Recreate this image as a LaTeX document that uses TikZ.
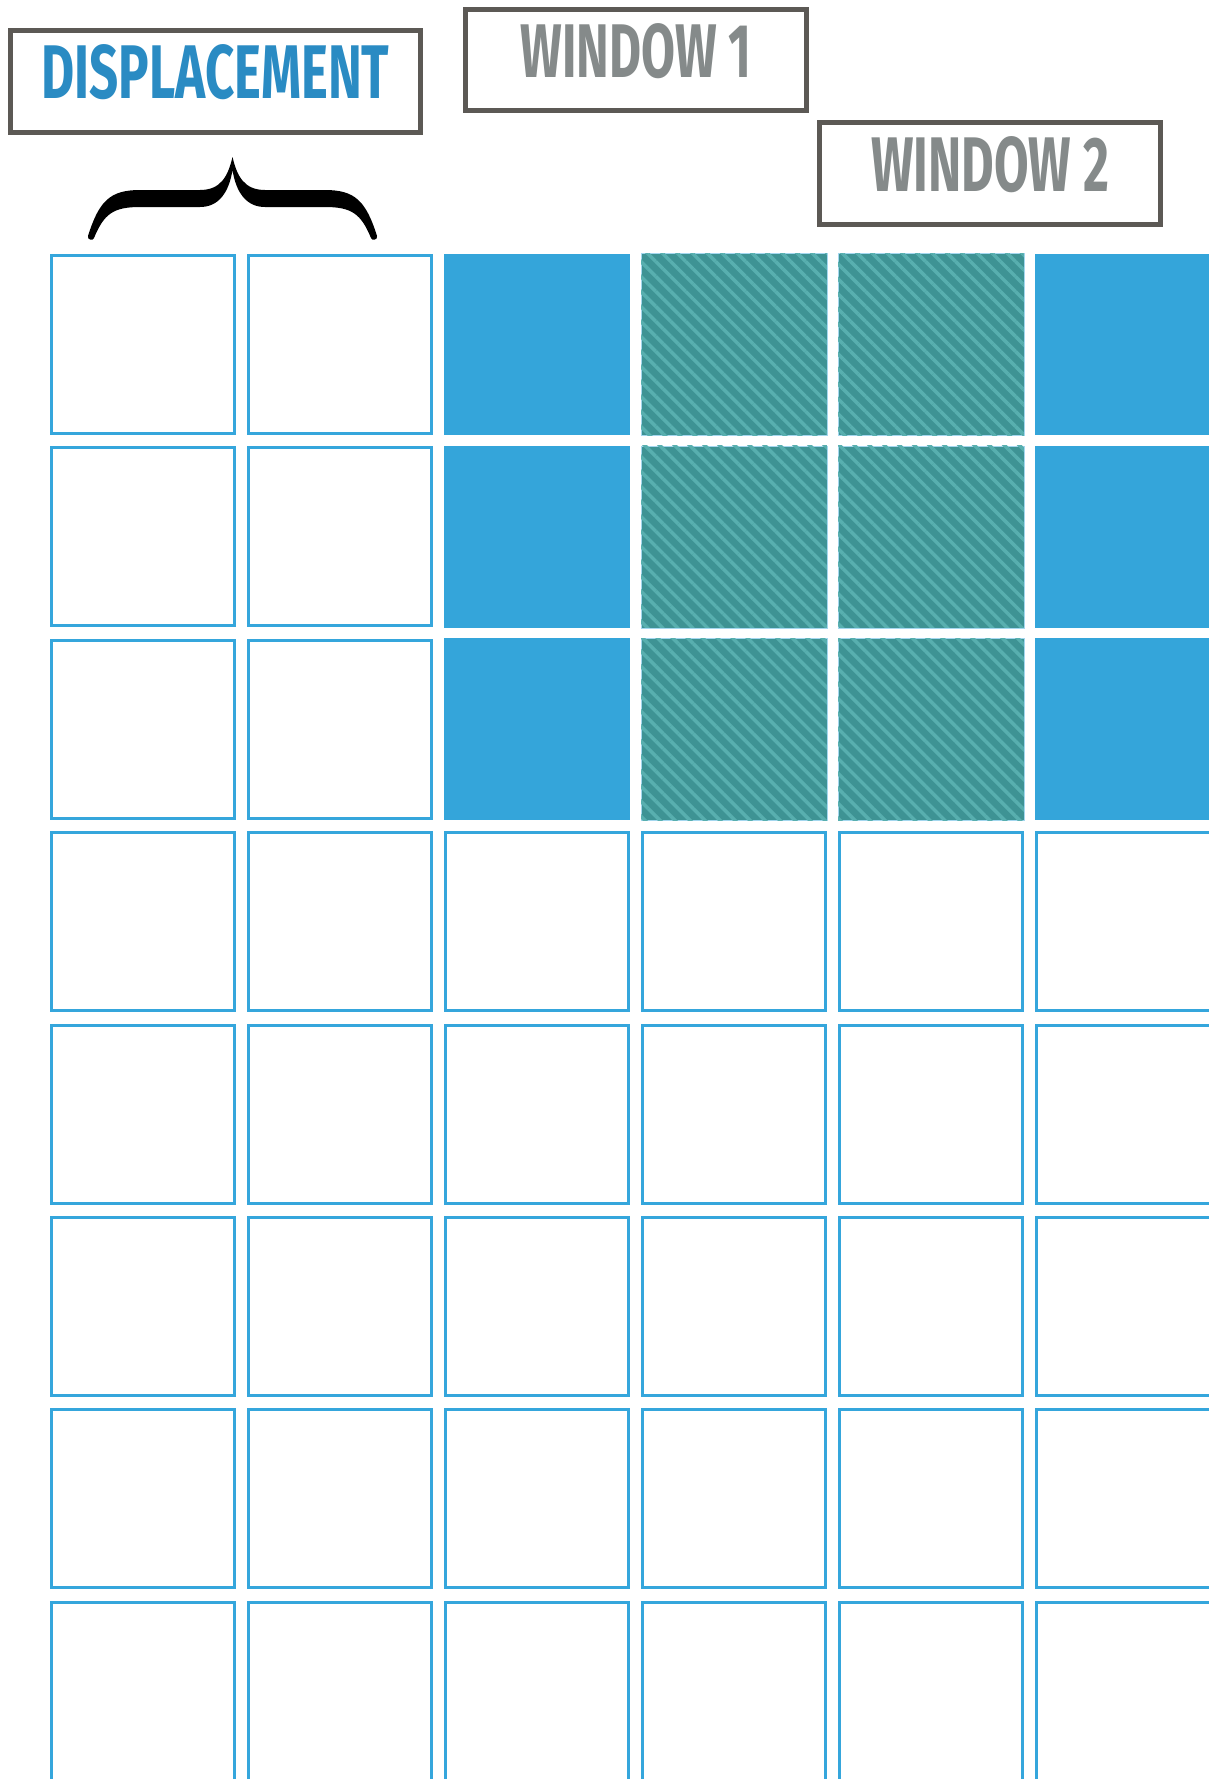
\documentclass[tikz,border=0pt]{standalone}
\usepackage{fontspec}
\setmainfont{Fira Sans}
\usepackage{graphicx}
\usetikzlibrary{patterns.meta}
\definecolor{slotline}{HTML}{35A6DC}
\definecolor{slotfill}{HTML}{34A5DA}
\definecolor{hatchbase}{HTML}{3E9394}
\definecolor{hatchstripe}{HTML}{58AFAF}
\definecolor{tagline}{HTML}{5C5955}
\definecolor{tagblue}{HTML}{2A8BC3}
\definecolor{taggrey}{HTML}{858A8A}
\newcommand{\tagword}[3]{\resizebox{#1}{#2}{\bfseries #3}}
\tikzset{
  slot/.style={minimum width=3.66cm, minimum height=3.56cm, inner sep=0pt, outer sep=0pt},
  openslot/.style={slot, draw=slotline, line width=0.06cm, fill=white},
  fullslot/.style={slot, minimum width=3.72cm, minimum height=3.64cm, fill=slotfill},
  hatchslot/.style={fullslot, fill=hatchbase, draw=slotline!45, line width=0.3pt,
    postaction={pattern={Lines[angle=-45, distance=0.212cm, line width=0.07cm]}, pattern color=hatchstripe}},
  tagframe/.style={draw=tagline, line width=0.1cm, inner sep=0pt,
    minimum width=6.82cm, minimum height=2.04cm, text depth=0.4cm},
}

\begin{document}
\begin{tikzpicture}[x=0.02cm, y=-0.02cm]
\useasboundingbox (0,0) rectangle (1209,1779);
\clip (0,0) rectangle (1209,1779);

% ── labels ──────────────────────────────────────────────────────
\node[tagframe, minimum width=8.2cm, text=tagblue] (disptag) at (215.5,81.5)
  {\tagword{6.96cm}{1.08cm}{DISPLACEMENT}};
\node[tagframe, text=taggrey] (wintag1) at (636,60)
  {\tagword{4.62cm}{1.08cm}{WINDOW 1}};
\node[tagframe, text=taggrey] (wintag2) at (990,173.5)
  {\tagword{4.76cm}{1.10cm}{WINDOW 2}};

% ── brace over the first two columns ───────────────────────────
\fill (88,236) .. controls (99,201) and (110,190) .. (140,190)
  -- (200,190) .. controls (221,190) and (228,176) .. (232.5,157)
  .. controls (237,176) and (244,190) .. (265,190)
  -- (325,190) .. controls (355,190) and (366,201) .. (377,236)
  .. controls (378,240) and (372,241) .. (371,238)
  .. controls (361,214) and (352,207) .. (325,207)
  -- (265,207) .. controls (246,207) and (236,192) .. (232.5,170)
  .. controls (229,192) and (219,207) .. (200,207)
  -- (140,207) .. controls (113,207) and (104,214) .. (94,238)
  .. controls (93,241) and (87,240) .. (88,236) -- cycle;

% ── grid: top rows carry the windows ───────────────────────────
\foreach \r in {0,1,2}
  \foreach \c/\kind in {0/openslot,1/openslot,2/fullslot,3/hatchslot,4/hatchslot,5/fullslot}
    \node[\kind] (s\r\c) at ({143+197*\c},{344.5+192.4*\r}) {};

% ── grid: remaining rows ───────────────────────────────────────
\foreach \r in {3,...,7}
  \foreach \c in {0,...,5}
    \node[openslot] (s\r\c) at ({143+197*\c},{344.5+192.4*\r}) {};

\end{tikzpicture}
\end{document}
